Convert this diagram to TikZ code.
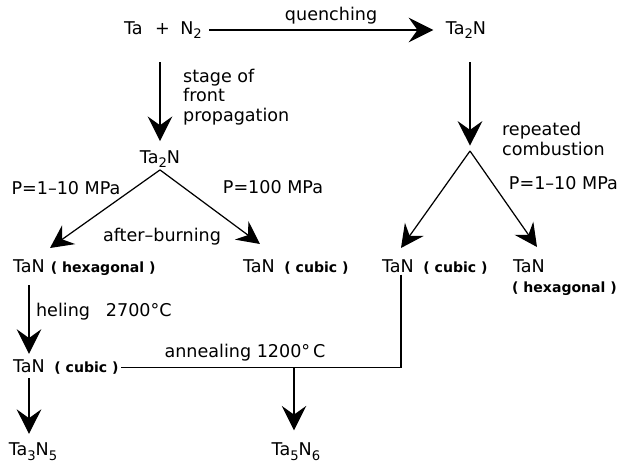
\documentclass[tikz,border=0pt]{standalone}
\usepackage{fontspec}
\setmainfont{DejaVu Sans}
\usetikzlibrary{arrows.meta,positioning,calc}
\newcommand{\lo}[1]{\raisebox{-0.5ex}{\fontsize{7.5}{8}\selectfont #1}}

\begin{document}
\begin{tikzpicture}[x=0.02cm,y=-0.02cm,
    chem/.style={inner sep=1pt, font=\fontsize{10}{12}\selectfont},
    phase/.style={inner sep=1pt, font=\fontsize{8}{10}\selectfont\bfseries},
    note/.style={inner sep=1pt, font=\fontsize{10}{11}\selectfont, align=left},
    bigarrow/.style={-{Stealth[length=14pt,width=14pt,inset=5pt]}, line width=0.7pt},
    forkarrow/.style={-{Stealth[length=13pt,width=13pt,inset=4.5pt]}, line width=0.7pt},
    plain/.style={line width=0.7pt}]
    \useasboundingbox (0,0) rectangle (620,471);

    % Starting mixture and quenched product
    \node[chem] (mix) at (163,30) {Ta\hspace{0.7em}+\hspace{0.6em}N\lo{2}};
    \node[chem] (quen) at (466,30) {Ta\lo{2}N};
    \draw[bigarrow, shorten <=3pt, shorten >=6pt] (mix.east) -- (quen.west)
        node[note, pos=0.53, above=2pt] (quenlbl) {quenching};

    % Front propagation branch
    \node[chem] (tam) at (160,159) {Ta\lo{2}N};
    \draw[bigarrow, shorten <=12pt, shorten >=4pt] (tam.north |- mix.south) -- (tam.north);
    \node[note, anchor=west] (stagelbl) at (181,97) {stage of\\front\\propagation};

    \coordinate (hexLtip) at (50,248);
    \coordinate (cubMtip) at (260,244);
    \draw[forkarrow] (tam.south) -- (hexLtip);
    \draw[forkarrow] (tam.south) -- (cubMtip);
    \node[note] (plowL) at (66,188) {P=1–10 MPa};
    \node[note] (phigh) at (273,187) {P=100 MPa};
    \node[note] (afterlbl) at (162,237) {after–burning};

    \node[chem] (hexL) at (29,266) {TaN};
    \node[phase, base right=1pt of hexL] (hexLph) {( hexagonal )};
    \node[chem] (cubM) at (259,266) {TaN};
    \node[phase, base right=3pt of cubM] (cubMph) {( cubic )};

    % Repeated combustion branch
    \coordinate (forkR) at (470,151);
    \draw[bigarrow, shorten <=12pt, shorten >=3pt] (forkR |- quen.south) -- (forkR);
    \node[note, anchor=west] (repeatlbl) at (500,139) {repeated\\combustion};

    \node[chem] (cubR) at (398,266) {TaN};
    \node[phase, base right=3pt of cubR] (cubRph) {( cubic )};
    \node[chem] (hexR) at (529,266) {TaN};
    \node[phase, anchor=west] (hexRph) at (510,289) {( hexagonal )};
    \coordinate (cubRtip) at (401,248);
    \coordinate (hexRtip) at (537,247);
    \draw[forkarrow] (forkR) -- (cubRtip);
    \draw[forkarrow] (forkR) -- (hexRtip);
    \node[note, anchor=east] (plowR) at (620,183) {P=1–10 MPa};

    % Heating and annealing
    \node[chem] (cubL) at (29,366) {TaN};
    \node[phase, base right=3pt of cubL] (cubLph) {( cubic )};
    \draw[bigarrow, shorten <=6pt, shorten >=2pt] (hexL.south) -- (cubL.north);
    \node[note, anchor=west] (helinglbl) at (34,312) {heling\hspace{0.9em}2700°C};

    \node[chem] (ta3n5) at (33,452) {Ta\lo{3}N\lo{5}};
    \node[chem] (ta5n6) at (296,452) {Ta\lo{5}N\lo{6}};
    \draw[plain] (cubR.south -| cubRtip) -- (cubRtip |- cubLph.east) coordinate (join)
        -- (cubLph.east);
    \node[note] (anneallbl) at (245,353) {annealing 1200°\,C};
    \draw[bigarrow, shorten >=6pt] (294,367 |- join) -- (294,367 |- ta5n6.north);
    \draw[bigarrow, shorten <=2pt, shorten >=4pt] (cubL.south) -- (cubL.south |- ta3n5.north);
\end{tikzpicture}
\end{document}
